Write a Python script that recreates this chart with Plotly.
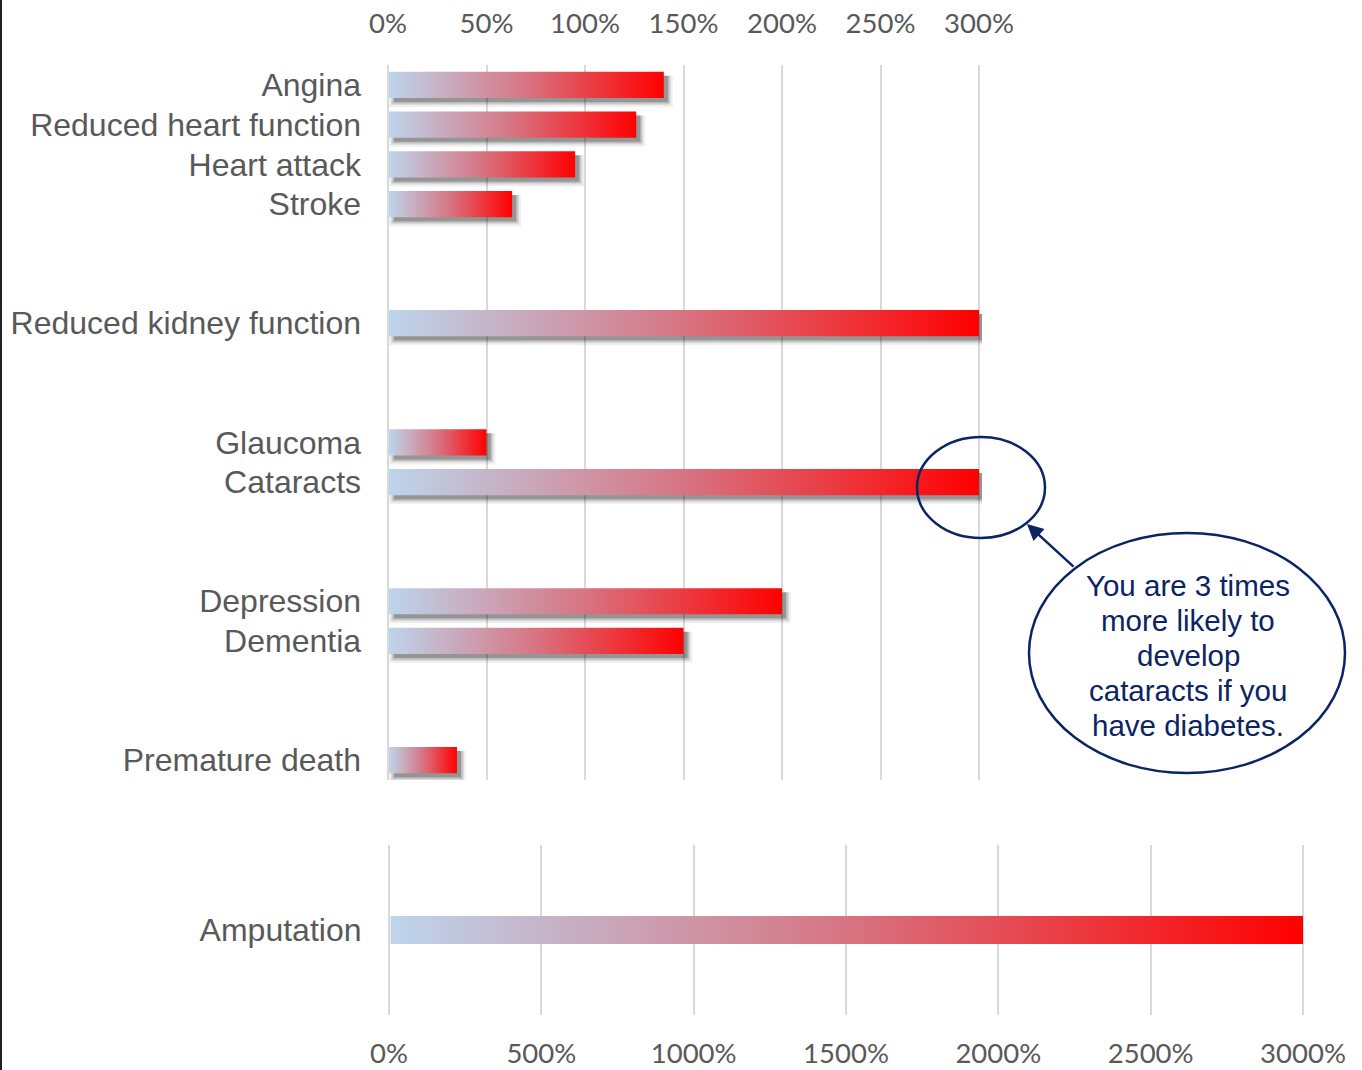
import plotly.graph_objects as go

# ---- data ----
groups = [
    ["Angina", "Reduced heart function", "Heart attack", "Stroke"],
    ["Reduced kidney function"],
    ["Glaucoma", "Cataracts"],
    ["Depression", "Dementia"],
    ["Premature death"],
]
values_top = {
    "Angina": 140, "Reduced heart function": 126, "Heart attack": 95, "Stroke": 63,
    "Reduced kidney function": 300,
    "Glaucoma": 50, "Cataracts": 300,
    "Depression": 200, "Dementia": 150,
    "Premature death": 35,
}
bottom_category = "Amputation"
bottom_value = 3000
top_ticks = [0, 50, 100, 150, 200, 250, 300]
bottom_ticks = [0, 500, 1000, 1500, 2000, 2500, 3000]
callout_lines = ["You are 3 times", "more likely to", "develop", "cataracts if you", "have diabetes."]

# ---- layout helpers ----
W, H = 1362, 1070
def px(x): return x / W
def py(y): return 1 - y / H

GRAD = [[0, "#BDD5EC"], [0.5, "#D77482"], [1, "#FF0000"]]
TXT = "#595959"
NAVY = "#0B2463"

# slot positions (2-slot gaps between groups)
cats, pos = [], []
p = 0
for g in groups:
    for c in g:
        cats.append(c); pos.append(p); p += 1
    p += 2
nslots = pos[-1] + 1

top_range = [-1.5, 301.5]
ppu = (979 - 388) / 300.0  # px per % on top axis
top_dom_x = [px(388 + top_range[0] * ppu), px(388 + top_range[1] * ppu)]
top_dom_y = [py(780), py(65)]
bot_range = [-5, 3005]
bppu = (1303 - 389) / 3000.0
bot_dom_x = [px(389 + bot_range[0] * bppu), px(389 + bot_range[1] * bppu)]
bot_dom_y = [py(1015), py(845)]

fig = go.Figure()

hw = 0.33  # half bar thickness in slots
slot_px = (780 - 65) / (nslots)

# shadows
for c, yp in zip(cats, pos):
    v = values_top[c]
    for e, a in [(6, 0.06), (4, 0.09), (2.5, 0.14), (1, 0.2)]:
        dx, dy = 3, 3
        x0 = (dx - e + 4) / ppu
        x1 = v + (dx + e) / ppu
        y0 = yp - hw + (dy + 1) / slot_px
        y1 = yp + hw + (dy + e) / slot_px
        fig.add_trace(go.Scatter(
            x=[x0, x1, x1, x0, x0], y=[y0, y0, y1, y1, y0],
            mode="lines", fill="toself", line=dict(width=0, color="rgba(0,0,0,0)"),
            fillcolor=f"rgba(0,0,0,{a})", hoverinfo="skip", showlegend=False,
            xaxis="x", yaxis="y"))

# gradient bars (top)
for c, yp in zip(cats, pos):
    v = values_top[c]
    fig.add_trace(go.Scatter(
        x=[0.5, v, v, 0.5, 0.5], y=[yp - hw, yp - hw, yp + hw, yp + hw, yp - hw],
        mode="lines", fill="toself", line=dict(width=0, color="rgba(0,0,0,0)"),
        fillgradient=dict(type="horizontal", colorscale=GRAD),
        hoverinfo="skip", showlegend=False, xaxis="x", yaxis="y"))

# bottom bar
bh = 0.083
fig.add_trace(go.Scatter(
    x=[5, bottom_value, bottom_value, 5, 5], y=[-bh, -bh, bh, bh, -bh],
    mode="lines", fill="toself", line=dict(width=0, color="rgba(0,0,0,0)"),
    fillgradient=dict(type="horizontal", colorscale=GRAD),
    hoverinfo="skip", showlegend=False, xaxis="x2", yaxis="y2"))

tickfont = dict(family="Lato, Open Sans, sans-serif", size=27.5, color=TXT)
catfont = dict(family="Arial, Liberation Sans, sans-serif", size=32, color=TXT)

fig.update_layout(
    template="none", autosize=False,
    width=W, height=H, margin=dict(l=0, r=0, t=0, b=0, pad=0),
    paper_bgcolor="white", plot_bgcolor="rgba(0,0,0,0)", showlegend=False,
    xaxis=dict(domain=top_dom_x, range=top_range, side="top", anchor="y",
               tickvals=top_ticks, ticktext=[f"{t}%" for t in top_ticks],
               showgrid=True, gridcolor="#D9D9D9", gridwidth=2, zeroline=False,
               showline=False, ticks="", tickfont=tickfont, ticklabelstandoff=26,
               automargin=False),
    yaxis=dict(domain=top_dom_y, range=[nslots - 0.5, -0.5], anchor="x",
               tickvals=pos, ticktext=cats, showgrid=False, zeroline=False,
               showline=False, ticks="", tickfont=catfont, ticklabelstandoff=23,
               automargin=False),
    xaxis2=dict(domain=bot_dom_x, range=bot_range, side="bottom", anchor="y2",
                tickvals=bottom_ticks, ticktext=[f"{t}%" for t in bottom_ticks],
                showgrid=True, gridcolor="#D9D9D9", gridwidth=2, zeroline=False,
                showline=False, ticks="", tickfont=tickfont, ticklabelstandoff=19,
                automargin=False),
    yaxis2=dict(domain=bot_dom_y, range=[-0.5, 0.5], anchor="x2",
                tickvals=[0], ticktext=[bottom_category], showgrid=False,
                zeroline=False, showline=False, ticks="", tickfont=catfont,
                ticklabelstandoff=25, automargin=False),
)

# shapes: left border, ellipses
fig.add_shape(type="line", xref="paper", yref="paper", x0=px(1), x1=px(1), y0=0, y1=1,
              line=dict(color="#222222", width=2))
fig.add_shape(type="circle", xref="paper", yref="paper",
              x0=px(917), x1=px(1045), y0=py(538), y1=py(437),
              line=dict(color=NAVY, width=2.5), fillcolor="rgba(0,0,0,0)")
fig.add_shape(type="circle", xref="paper", yref="paper",
              x0=px(1029), x1=px(1345), y0=py(773), y1=py(533),
              line=dict(color=NAVY, width=2.5), fillcolor="white")

# arrow
fig.add_annotation(xref="paper", yref="paper", x=px(1027), y=py(524),
                   ax=1075 - 1027, ay=568 - 524, axref="pixel", ayref="pixel",
                   text="", showarrow=True, arrowhead=2, arrowsize=1.3,
                   arrowwidth=2.5, arrowcolor=NAVY)
# callout text, one line per annotation for Office-like line spacing
for i, line in enumerate(callout_lines):
    fig.add_annotation(xref="paper", yref="paper", x=px(1188), y=py(585 + 35 * i),
                       xanchor="center", yanchor="middle", showarrow=False,
                       text=line, align="center",
                       font=dict(family="Arial, Liberation Sans, sans-serif",
                                 size=29.5, color=NAVY))

fig.write_html("out.html", config={"responsive": False})
